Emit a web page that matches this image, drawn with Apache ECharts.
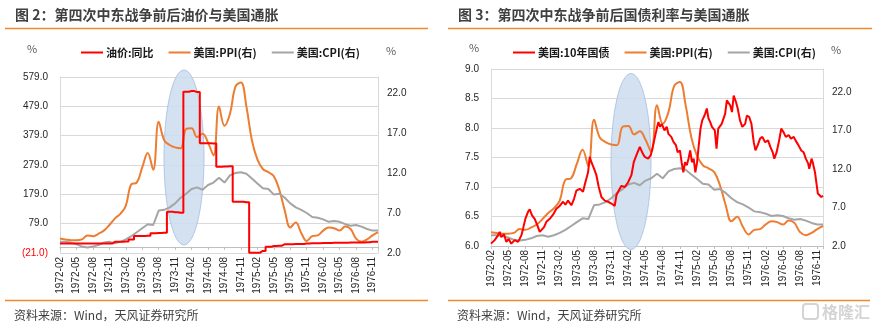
<!DOCTYPE html>
<html><head><meta charset="utf-8">
<script src="https://cdn.jsdelivr.net/npm/echarts@6.0.0/dist/echarts.min.js"></script>
<style>html,body{margin:0;padding:0;background:#fff}#c{width:877px;height:327px}</style>
</head><body><div id="c"></div>
<script>
// x positions are month offsets from 1972-02 (0) to 1976-12 (58)
const tickLabels = ['1972-02','1972-05','1972-08','1972-11','1973-02','1973-05','1973-08','1973-11',
  '1974-02','1974-05','1974-08','1974-11','1975-02','1975-05','1975-08','1975-11',
  '1976-02','1976-05','1976-08','1976-11'];

// 油价:同比 (%), monthly 1972-02 .. 1976-12
const oilYoY = [11,11,11,11,11,11,11,11,11,11, 17,17,18,25,37,37,38,46,47,48,
  120,118,116,529,531,528,353,353,352,273,274,275,154,154,152,
  -20,-20,-14,0,3,4,9,9,10,10,11,12,12,13,13,14,14,14,15,15,15,16,17,17];

// 美国:PPI (%), monthly
const ppi = [3.8,3.7,3.6,3.6,3.7,4.2,4.1,4.4,4.8,5.5,6.3,6.9,7.9,10.6,10.8,12.7,14.5,12.4,18.4,16.1,
  15.5,15.2,15.1,17.5,17.6,16.5,16.9,15.8,14.2,20.3,17.9,19.4,22.8,23.3,20.3,16.1,13.7,12.5,12.1,11.6,
  9.9,7.3,5.2,5.8,4.5,3.5,4.1,4.2,4.8,5.2,5.1,4.8,5.3,5.0,3.8,3.4,3.7,4.2,4.6];

// 美国:CPI (%), monthly
const cpi = [3.4,3.4,3.3,3.1,2.8,2.7,2.8,3.0,3.3,3.4,3.2,3.4,3.7,4.1,4.6,5.1,5.6,5.5,7.3,7.4,
  7.7,8.2,8.9,9.4,10.0,10.2,9.9,10.5,10.8,11.4,10.8,11.7,12.0,12.1,11.9,11.3,10.7,10.1,10.0,9.3,
  9.4,8.9,8.2,7.7,7.4,7.0,6.5,6.4,6.2,5.9,6.0,5.9,5.6,5.4,5.5,5.3,5.0,4.8,4.8];

// 美国:10年国债 (%), sampled observations
const bondPos = [0,0.3,0.64,1.22,1.52,1.81,2.27,2.68,3.09,3.55,4.14,4.72,5.0,5.3,5.59,6.0,6.47,6.76,7.17,7.63,
  8.1,8.51,8.8,9.27,9.67,10.26,10.84,11.42,12.0,12.59,13.0,13.46,14.04,14.51,14.92,15.5,16.08,16.49,16.96,17.25,
  17.54,18.0,18.41,18.82,19.29,19.87,20.45,21.04,21.62,21.91,22.32,22.79,23.37,23.95,24.53,24.94,25.41,25.99,26.4,26.86,
  27.45,27.91,28.44,28.67,28.96,29.25,29.55,29.84,30.3,30.7,31.0,31.5,31.9,32.3,32.6,33.0,33.3,33.6,33.9,34.2,
  34.5,34.8,35.1,35.4,35.7,36.0,36.3,36.6,36.9,37.2,37.4,37.7,38.0,38.3,38.6,38.9,39.1,39.4,39.7,40.0,
  40.3,40.6,40.9,41.2,41.5,41.8,42.1,42.4,42.5,42.8,43.1,43.5,43.9,44.4,44.7,45.1,45.5,45.9,46.2,46.6,
  47.0,47.4,47.9,48.4,48.8,49.2,49.5,49.9,50.4,50.7,51.1,51.5,52.0,52.4,52.9,53.2,53.7,54.2,54.6,55.0,
  55.4,55.6,56.0,56.2,56.6,56.9,57.1,57.4,57.7,58.0];
const bondYield = [6.04,6.02,6.1,6.18,6.24,6.15,6.2,6.07,6.12,6.04,6.1,6.07,6.12,6.18,6.29,6.46,6.58,6.62,6.52,6.46,
  6.35,6.24,6.27,6.32,6.41,6.46,6.53,6.63,6.68,6.75,6.7,6.77,6.69,6.8,6.94,6.97,6.92,7.08,7.25,7.51,
  7.42,7.31,7.2,7.0,6.83,6.77,6.75,6.72,6.68,6.86,6.94,7.02,7.0,7.08,7.2,7.42,7.54,7.68,7.59,7.51,
  7.48,7.54,7.76,7.79,7.99,8.1,8.02,8.07,7.96,8.02,7.9,7.85,7.76,7.71,7.59,7.62,7.42,7.25,7.42,7.37,
  7.48,7.62,7.42,7.48,7.25,7.42,7.71,7.99,8.13,8.19,8.24,8.33,8.16,8.1,8.02,8.05,7.96,7.65,7.99,8.02,
  8.07,8.1,8.24,8.47,8.44,8.38,8.27,8.55,8.58,8.44,8.33,8.13,8.02,8.07,8.21,8.19,8.07,7.76,7.62,7.71,
  7.82,7.85,7.76,7.79,7.68,7.59,7.48,7.59,7.82,7.99,7.93,7.85,7.88,7.82,7.85,7.79,7.71,7.62,7.59,7.48,
  7.4,7.31,7.48,7.42,7.25,7.03,6.89,6.86,6.83,6.85];

const RED = '#ff0000', ORANGE = '#ed7d31', GRAY = '#a5a5a5';
const LBL = {fontFamily: 'Liberation Sans, Arial, sans-serif', fontSize: 10, color: '#262626'};
const CJK = '"Noto Sans CJK SC", sans-serif';

const monthly = arr => arr.map((v, i) => [i, v]);
const xFmt = v => (Number.isInteger(v / 3) && tickLabels[v / 3]) ? tickLabels[v / 3] : '';

function xAxis(gi) {
  return {
    type: 'value', gridIndex: gi, min: 0, max: 58, interval: 3,
    axisLine: {show: true, lineStyle: {color: '#bfbfbf'}},
    axisTick: {show: true, length: 3, lineStyle: {color: '#bfbfbf'}},
    splitLine: {show: false},
    axisLabel: Object.assign({rotate: 90, margin: 4, formatter: xFmt}, LBL)
  };
}

const chart = echarts.init(document.getElementById('c'), null, {renderer: 'canvas'});
chart.setOption({
  animation: false,
  backgroundColor: '#fff',
  grid: [
    {left: 60, top: 77, width: 318, height: 176},
    {left: 491, top: 69, width: 332, height: 177}
  ],
  legend: [
    {data: ['油价:同比', '美国:PPI(右)', '美国:CPI(右)'], left: 76, top: 42, itemWidth: 22, itemHeight: 2,
     icon: 'rect', itemGap: 15,
     textStyle: {fontFamily: CJK, fontSize: 11, fontWeight: 'bold', color: '#1a1a1a', padding: [0, 0, 0, -2]}},
    {data: ['美国:10年国债', '美国:PPI(右)', '美国:CPI(右)'], left: 508, top: 42, itemWidth: 22, itemHeight: 2,
     icon: 'rect', itemGap: 15,
     textStyle: {fontFamily: CJK, fontSize: 11, fontWeight: 'bold', color: '#1a1a1a', padding: [0, 0, 0, -2]}}
  ],
  xAxis: [xAxis(0), xAxis(1)],
  yAxis: [
    {type: 'value', gridIndex: 0, min: -21, max: 579, interval: 100, position: 'left',
     axisLine: {show: true, lineStyle: {color: '#d9d9d9'}}, axisTick: {show: false},
     splitLine: {show: true, lineStyle: {color: '#d9d9d9'}},
     axisLabel: Object.assign({margin: 12,
       formatter: v => v < 0 ? '{n|(' + Math.abs(v).toFixed(1) + ')}' : v.toFixed(1),
       rich: {n: {color: '#ff0000', fontSize: 10, fontFamily: 'Liberation Sans, Arial, sans-serif'}}}, LBL)},
    {type: 'value', gridIndex: 0, min: 2, max: 24, interval: 5, position: 'right',
     axisLine: {show: true, lineStyle: {color: '#d9d9d9'}}, axisTick: {show: false}, splitLine: {show: false},
     axisLabel: Object.assign({margin: 9, formatter: v => v > 22.5 ? '' : v.toFixed(1)}, LBL)},
    {type: 'value', gridIndex: 1, min: 6, max: 9, interval: 0.5, position: 'left',
     axisLine: {show: true, lineStyle: {color: '#d9d9d9'}}, axisTick: {show: false},
     splitLine: {show: true, lineStyle: {color: '#d9d9d9'}},
     axisLabel: Object.assign({margin: 12, formatter: v => v.toFixed(1)}, LBL)},
    {type: 'value', gridIndex: 1, min: 2, max: 25, interval: 5, position: 'right',
     axisLine: {show: true, lineStyle: {color: '#d9d9d9'}}, axisTick: {show: false}, splitLine: {show: false},
     axisLabel: Object.assign({margin: 9, formatter: v => v > 22.5 ? '' : v.toFixed(1)}, LBL)}
  ],
  series: [
    {name: '油价:同比', type: 'line', xAxisIndex: 0, yAxisIndex: 0, data: monthly(oilYoY), step: 'middle',
     showSymbol: false, color: RED, lineStyle: {width: 2, color: RED}, z: 4},
    {name: '美国:PPI(右)', type: 'line', xAxisIndex: 0, yAxisIndex: 1, data: monthly(ppi), smooth: 0.4,
     showSymbol: false, color: ORANGE, lineStyle: {width: 2, color: ORANGE}, z: 3},
    {name: '美国:CPI(右)', type: 'line', xAxisIndex: 0, yAxisIndex: 1, data: monthly(cpi),
     showSymbol: false, color: GRAY, lineStyle: {width: 2, color: GRAY}, z: 3},
    {name: '美国:10年国债', type: 'line', xAxisIndex: 1, yAxisIndex: 2,
     data: bondPos.map((p, i) => [p, bondYield[i]]),
     showSymbol: false, color: RED, lineStyle: {width: 2, color: RED}, z: 4},
    {name: '美国:PPI(右)', type: 'line', xAxisIndex: 1, yAxisIndex: 3, data: monthly(ppi), smooth: 0.4,
     showSymbol: false, color: ORANGE, lineStyle: {width: 2, color: ORANGE}, z: 3},
    {name: '美国:CPI(右)', type: 'line', xAxisIndex: 1, yAxisIndex: 3, data: monthly(cpi),
     showSymbol: false, color: GRAY, lineStyle: {width: 2, color: GRAY}, z: 3}
  ],
  graphic: [
    {type: 'text', x: 15, y: 15, style: {text: '图 2：第四次中东战争前后油价与美国通胀', fill: '#404040',
      font: 'bold 14px ' + CJK, verticalAlign: 'middle'}},
    {type: 'text', x: 458, y: 15, style: {text: '图 3：第四次中东战争前后国债利率与美国通胀', fill: '#404040',
      font: 'bold 14px ' + CJK, verticalAlign: 'middle'}},
    {type: 'line', shape: {x1: 5, y1: 28.5, x2: 428, y2: 28.5}, style: {stroke: '#f0892b', lineWidth: 1.5}},
    {type: 'line', shape: {x1: 448, y1: 28.5, x2: 872, y2: 28.5}, style: {stroke: '#f0892b', lineWidth: 1.5}},
    {type: 'line', shape: {x1: 5, y1: 300.5, x2: 428, y2: 300.5}, style: {stroke: '#f0892b', lineWidth: 1.5}},
    {type: 'line', shape: {x1: 448, y1: 300.5, x2: 870, y2: 300.5}, style: {stroke: '#f0892b', lineWidth: 1.5}},
    {type: 'text', x: 27, y: 49, style: {text: '%', fill: '#595959', font: '11px ' + CJK, verticalAlign: 'middle'}},
    {type: 'text', x: 386, y: 51, style: {text: '%', fill: '#595959', font: '11px ' + CJK, verticalAlign: 'middle'}},
    {type: 'text', x: 469, y: 48, style: {text: '%', fill: '#595959', font: '11px ' + CJK, verticalAlign: 'middle'}},
    {type: 'text', x: 831, y: 50, style: {text: '%', fill: '#595959', font: '11px ' + CJK, verticalAlign: 'middle'}},
    {type: 'text', x: 14, y: 315, style: {text: '资料来源：Wind，天风证券研究所', fill: '#404040',
      font: '12px ' + CJK, verticalAlign: 'middle'}},
    {type: 'text', x: 457, y: 315, style: {text: '资料来源：Wind，天风证券研究所', fill: '#404040',
      font: '12px ' + CJK, verticalAlign: 'middle'}},
    {type: 'ellipse', z: 1, shape: {cx: 184, cy: 157.5, rx: 20, ry: 87.5},
     style: {fill: 'rgba(205,220,238,0.85)', stroke: 'rgba(170,195,225,0.9)', lineWidth: 1}},
    {type: 'ellipse', z: 1, shape: {cx: 631, cy: 161.5, rx: 20, ry: 88},
     style: {fill: 'rgba(205,220,238,0.85)', stroke: 'rgba(170,195,225,0.9)', lineWidth: 1}},
    {type: 'rect', shape: {x: 803, y: 304, width: 15, height: 15, r: 3},
     style: {fill: 'none', stroke: '#d4d4d4', lineWidth: 2}},
    {type: 'text', x: 822, y: 312, style: {text: '格隆汇', fill: '#d4d4d4', font: 'bold 16px ' + CJK, verticalAlign: 'middle'}}
  ]
});
</script>
</body></html>
